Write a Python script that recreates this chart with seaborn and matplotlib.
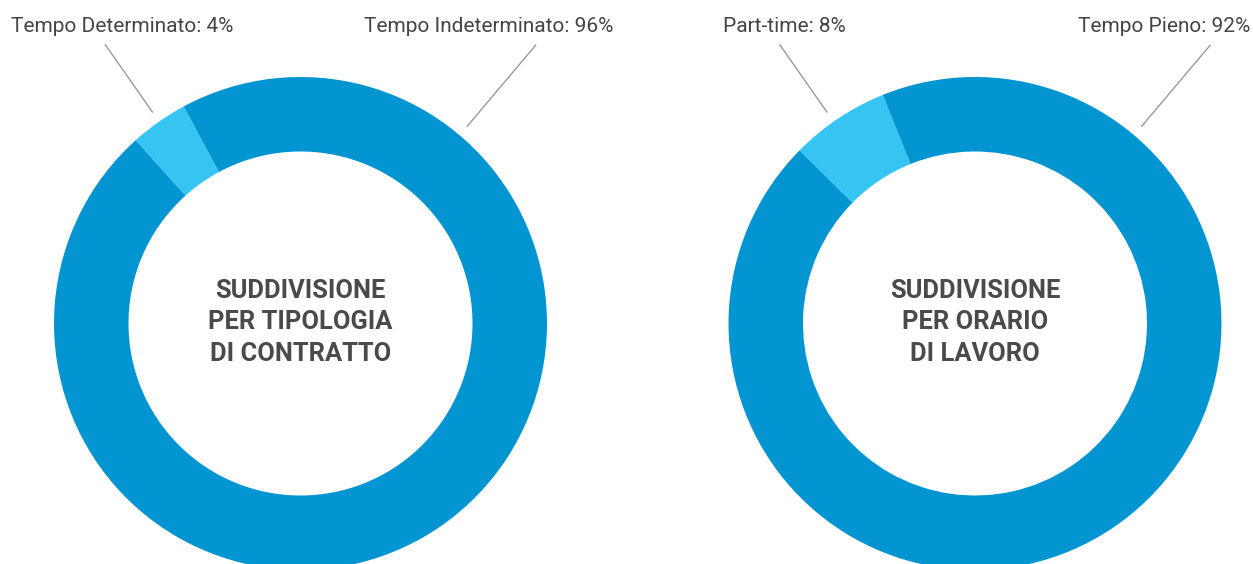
import numpy as np
import matplotlib
matplotlib.use("Agg")
import matplotlib.pyplot as plt
import seaborn as sns

sns.set_theme(style="white")
plt.rcParams['font.family'] = ['Roboto', 'DejaVu Sans']

# ---- data ----
contract_labels = ["Tempo Determinato", "Tempo Indeterminato"]
contract_shares = [3.8, 96.2]
contract_pct_text = ["4%", "96%"]

hours_labels = ["Part-time", "Tempo Pieno"]
hours_shares = [6.5, 93.5]
hours_pct_text = ["8%", "92%"]

titles = [["SUDDIVISIONE", "PER TIPOLOGIA", "DI CONTRATTO"],
          ["SUDDIVISIONE", "PER ORARIO", "DI LAVORO"]]

# ---- style ----
W, H = 1253, 564
light_c = "#36C5F3"
dark_c = "#0295D1"
text_c = "#454545"
title_c = "#4A4A4A"
line_c = "#9A9A9A"

fig = plt.figure(figsize=(W / 100, H / 100), dpi=100)
ax = fig.add_axes([0, 0, 1, 1])

R = 246.5
ring = 74.5
cy = H - 323.5
charts = [
    dict(cx=300.5, shares=contract_shares, labels=contract_labels, pct=contract_pct_text,
         start=118.3, title=titles[0], text_x=[122.3, 488.3]),
    dict(cx=975.0, shares=hours_shares, labels=hours_labels, pct=hours_pct_text,
         start=112.0, title=titles[1], text_x=[784.7, 1163.8]),
]
label_angles = [125.0, 49.8]
line_r = [(R + 11, 341.0), (R + 11, 365.0)]
label_baseline = H - 32.3

for c in charts:
    ax.pie(c["shares"], colors=[light_c, dark_c], startangle=c["start"],
           counterclock=True, radius=R, center=(c["cx"], cy),
           wedgeprops=dict(width=ring, linewidth=0, antialiased=True))
    for i in range(2):
        a = np.deg2rad(label_angles[i])
        r1, r2 = line_r[i]
        ax.plot([c["cx"] + r1 * np.cos(a), c["cx"] + r2 * np.cos(a)],
                [cy + r1 * np.sin(a), cy + r2 * np.sin(a)],
                color=line_c, lw=1.0, solid_capstyle="butt")
        ax.text(c["text_x"][i], label_baseline, f"{c['labels'][i]}: {c['pct'][i]}",
                ha="center", va="baseline", fontsize=15, color=text_c)
    for j, (t, yb) in enumerate(zip(c["title"], [297.7, 329.3, 360.7])):
        ax.text(c["cx"], H - yb, t, ha="center", va="baseline", fontsize=18.4,
                fontweight="bold", color=title_c)

ax.set_xlim(0, W)
ax.set_ylim(0, H)
ax.set_aspect("equal")
ax.set_axis_off()
fig.savefig("out.png", dpi=100, facecolor="white")
